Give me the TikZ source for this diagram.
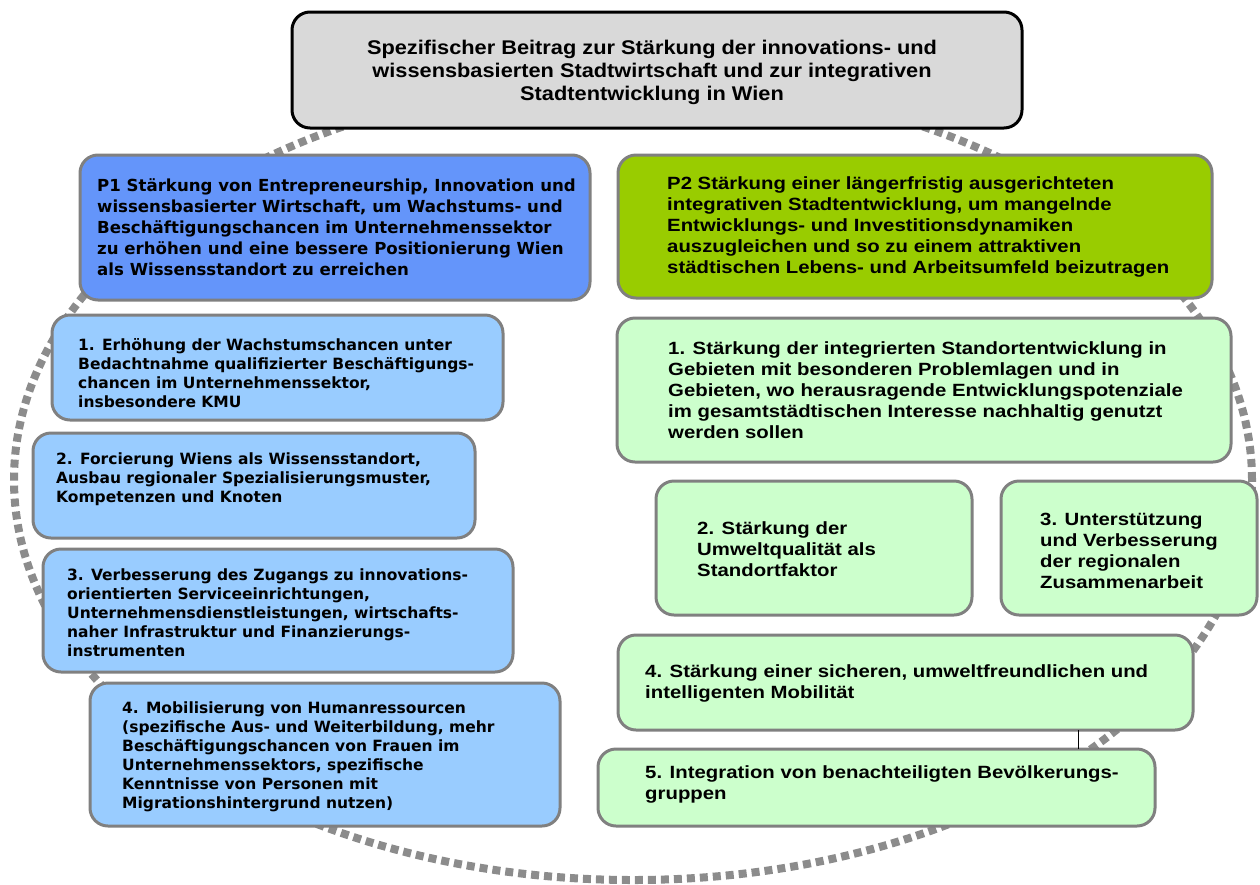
\documentclass[tikz,border=0pt]{standalone}
\usepackage{fontspec}
\setmainfont{Liberation Sans}
\newfontfamily\headfont{Liberation Sans Bold}[FakeStretch=1.1]
\newfontfamily\sidefont{Liberation Sans Bold}[FakeStretch=1.15]
\newfontfamily\blackfont{DejaVu Sans Bold}
\usepackage{tikz}
\usetikzlibrary{calc}
\definecolor{topgray}{RGB}{217,217,217}
\definecolor{ponecol}{RGB}{100,149,250}
\definecolor{ptwocol}{RGB}{153,204,0}
\definecolor{leftcol}{RGB}{153,204,255}
\definecolor{rightcol}{RGB}{204,255,204}
\definecolor{ringgray}{RGB}{140,140,140}
\definecolor{framegray}{RGB}{128,128,128}
\tikzset{box/.style={draw=framegray, line width=3pt, rounded corners=18pt,
         inner sep=0pt, outer sep=0pt},
         lbox/.style={box, fill=leftcol},
         rbox/.style={box, fill=rightcol},
         txt/.style={anchor=west, align=left, inner sep=0pt, text=black},
         ltxt/.style={txt, font=\blackfont\fontsize{15.5}{19}\selectfont},
         rtxt/.style={txt, font=\sidefont\fontsize{17.7}{21}\selectfont},
         ring/.style={draw=ringgray, line width=8pt, dash pattern=on 8pt off 5pt}}

\begin{document}
\begin{tikzpicture}[x=1pt, y=-1pt]
\useasboundingbox (0,0) rectangle (1260,884);

\draw [ring] (633,480) ellipse [x radius=619pt, y radius=400pt];

\node [box, draw=black, fill=topgray, minimum width=730pt, minimum height=116pt] (top) at (657,70) {};
\node [align=center, inner sep=0pt, font=\headfont\fontsize{19.8}{23}\selectfont] (toptext) at ([xshift=-5pt, yshift=-2pt]top.center)
  {Spezifischer Beitrag zur Stärkung der innovations- und\\wissensbasierten Stadtwirtschaft und zur integrativen\\Stadtentwicklung in Wien};

\node [box, fill=ponecol, minimum width=510pt, minimum height=145pt] (p1) at (335,227.5) {};
\node [txt, font=\blackfont\fontsize{16.6}{21}\selectfont] (p1text) at ([xshift=17pt]p1.west)
  {P1 Stärkung von Entrepreneurship, Innovation und\\wissensbasierter Wirtschaft, um Wachstums- und\\Beschäftigungschancen im Unternehmenssektor\\zu erhöhen und eine bessere Positionierung Wien\\als Wissensstandort zu erreichen};

\node [box, fill=ptwocol, minimum width=594pt, minimum height=143pt] (p2) at (915,226.5) {};
\node [rtxt] (p2text) at ([xshift=49pt]p2.west)
  {P2 Stärkung einer längerfristig ausgerichteten\\integrativen Stadtentwicklung, um mangelnde\\Entwicklungs- und Investitionsdynamiken\\auszugleichen und so zu einem attraktiven\\städtischen Lebens- und Arbeitsumfeld beizutragen};

\node [lbox, minimum width=451pt, minimum height=105pt] (l1) at (277.5,367.5) {};
\node [ltxt] (l1text) at ([xshift=26pt, yshift=-6pt]l1.west)
  {1. Erhöhung der Wachstumschancen unter\\Bedachtnahme qualifizierter Beschäftigungs-\\chancen im Unternehmenssektor,\\insbesondere KMU};

\node [lbox, minimum width=442pt, minimum height=105pt] (l2) at (254,485.5) {};
\node [ltxt] (l2text) at ([xshift=23pt, yshift=6pt]l2.west)
  {2. Forcierung Wiens als Wissensstandort,\\Ausbau regionaler Spezialisierungsmuster,\\Kompetenzen und Knoten};

\node [lbox, minimum width=470pt, minimum height=123pt] (l3) at (278,610.5) {};
\node [ltxt] (l3text) at ([xshift=24pt, yshift=-2pt]l3.west)
  {3. Verbesserung des Zugangs zu innovations-\\orientierten Serviceeinrichtungen,\\Unternehmensdienstleistungen, wirtschafts-\\naher Infrastruktur und Finanzierungs-\\instrumenten};

\node [lbox, minimum width=470pt, minimum height=143pt] (l4) at (325,754.5) {};
\node [ltxt] (l4text) at ([xshift=32pt, yshift=-2pt]l4.west)
  {4. Mobilisierung von Humanressourcen\\(spezifische Aus- und Weiterbildung, mehr\\Beschäftigungschancen von Frauen im\\Unternehmenssektors, spezifische\\Kenntnisse von Personen mit\\Migrationshintergrund nutzen)};

\node [rbox, minimum width=614pt, minimum height=144pt] (r1) at (924,390) {};
\node [rtxt] (r1text) at ([xshift=51pt]r1.west)
  {1. Stärkung der integrierten Standortentwicklung in\\Gebieten mit besonderen Problemlagen und in\\Gebieten, wo herausragende Entwicklungspotenziale\\im gesamtstädtischen Interesse nachhaltig genutzt\\werden sollen};

\node [rbox, minimum width=316pt, minimum height=134pt] (r2) at (814,548) {};
\node [rtxt] (r2text) at ([xshift=41pt, yshift=-1pt]r2.west)
  {2. Stärkung der\\Umweltqualität als\\Standortfaktor};

\node [rbox, minimum width=256pt, minimum height=134pt] (r3) at (1129,548) {};
\node [rtxt] (r3text) at ([xshift=39pt, yshift=-3pt]r3.west)
  {3. Unterstützung\\und Verbesserung\\der regionalen\\Zusammenarbeit};

\node [rbox, minimum width=575pt, minimum height=95pt] (r4) at (905.5,682.5) {};
\node [rtxt] (r4text) at ([xshift=27pt, yshift=-1pt]r4.west)
  {4. Stärkung einer sicheren, umweltfreundlichen und\\intelligenten Mobilität};

\node [rbox, minimum width=557pt, minimum height=77pt] (r5) at (876.5,787.5) {};
\node [rtxt] (r5text) at ([xshift=47pt, yshift=3pt]r5.west)
  {5. Integration von benachteiligten Bevölkerungs-\\gruppen};

\draw [line width=1pt] ([xshift=172.5pt]r4.south) -- ([xshift=172.5pt]r4.south |- r5.north);
\end{tikzpicture}
\end{document}
